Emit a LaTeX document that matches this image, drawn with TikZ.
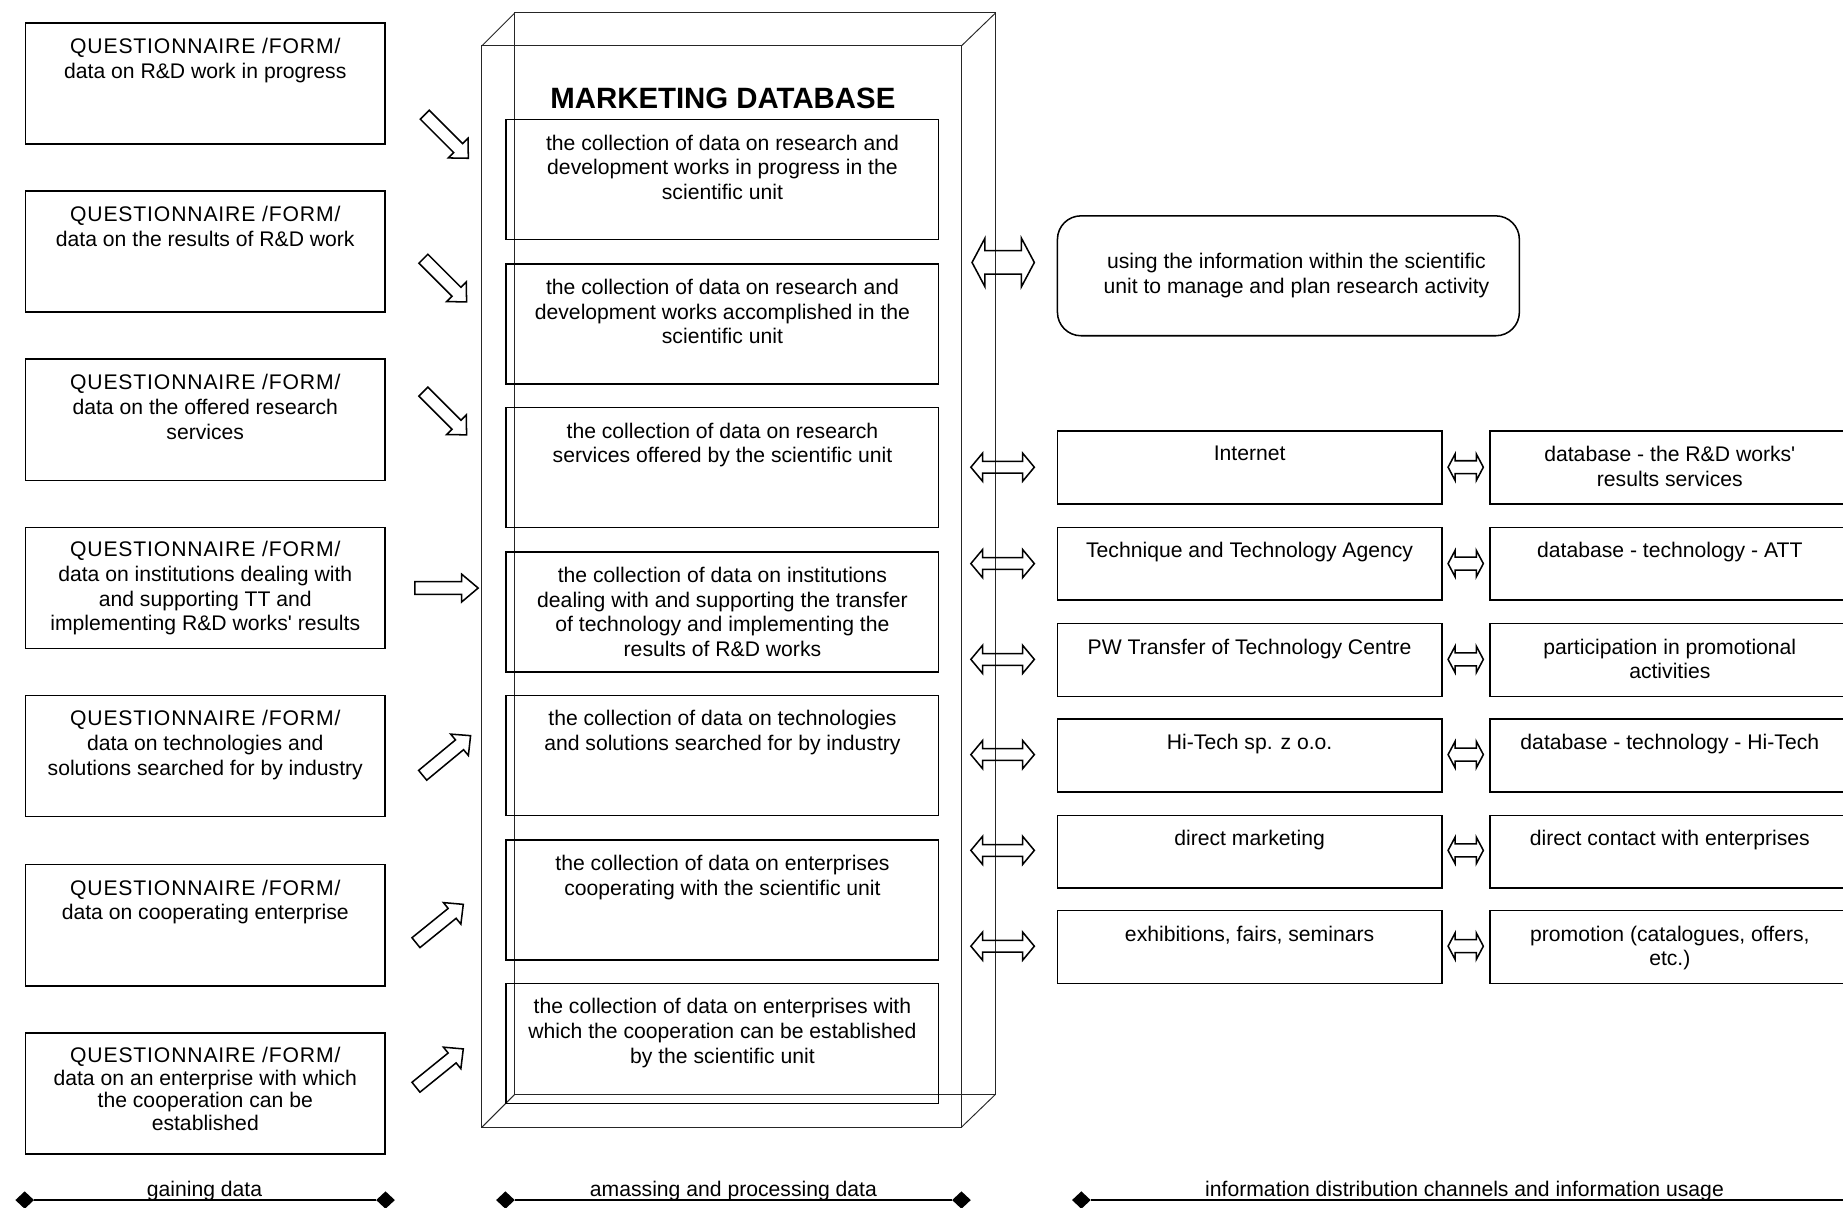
\documentclass[tikz,border=0pt]{standalone}
\usepackage{fontspec}
\setmainfont{Liberation Sans}[Ligatures=TeXOff]
\usetikzlibrary{calc,shapes.geometric}
\tikzset{
  frame/.style={draw=black!85, line width=0.8pt},
  boxbase/.style={draw, line width=1.3pt, anchor=north west, inner sep=0pt},
  lbox/.style={boxbase, minimum width=306pt, minimum height=103pt},
  mbox/.style={boxbase, minimum width=368pt, minimum height=102pt},
  rbox/.style={boxbase, minimum width=327pt, minimum height=62pt},
  farbox/.style={boxbase, minimum width=306pt, minimum height=62pt},
  txt/.style={anchor=north, align=center, inner sep=0pt, font=\fontsize{18}{21}\selectfont},
  lab/.style={anchor=base, inner sep=0pt, font=\fontsize{18}{21}\selectfont},
  titletxt/.style={anchor=base, inner sep=0pt, font=\fontsize{25}{28}\selectfont\bfseries},
  blk/.style={draw, line width=1.3pt, line join=miter},
  diam/.style={diamond, fill=black, draw=none, inner sep=0pt, minimum width=16pt, minimum height=15pt},
  axis/.style={draw, line width=1.3pt}
}
\newcommand\sarrow[4]{%
  \draw[blk, shift={#1}, rotate=#2] (0,-5.4) -- (#3-#4,-5.4) -- (#3-#4,-11.8) -- (#3,0) -- (#3-#4,11.8) -- (#3-#4,5.4) -- (0,5.4) -- cycle;}
\newcommand\dblarrow[5]{% center, half length, half head, half shaft, head length
  \draw[blk, shift={#1}] (-#2,0) -- (-#2+#5,-#3) -- (-#2+#5,-#4) -- (#2-#5,-#4) -- (#2-#5,-#3) -- (#2,0) -- (#2-#5,#3) -- (#2-#5,#4) -- (-#2+#5,#4) -- (-#2+#5,#3) -- cycle;}
\newcommand\qf{\addfontfeatures{LetterSpace=4}QUESTIONNAIRE /FORM/}
\begin{document}
\begin{tikzpicture}[x=1pt,y=-1pt]
\useasboundingbox (0,0) rectangle (1568,1027);
\clip (0,0) rectangle (1568,1027);

% 3D database box (wireframe)
\draw[frame] (410,39) rectangle (818,959);
\draw[frame] (438,11) rectangle (847,931);
\draw[frame] (410,39) -- (438,11);
\draw[frame] (818,39) -- (847,11);
\draw[frame] (818,959) -- (847,931);
\draw[frame] (410,959) -- (438,931);

\node[titletxt] (title) at (615,92) {MARKETING DATABASE};

% left boxes
\node[lbox] (L1) at (21,19) {};
\node[lbox] (L2) at (21,162) {};
\node[lbox] (L3) at (21,305) {};
\node[lbox] (L4) at (21,448) {};
\node[lbox] (L5) at (21,591) {};
\node[lbox] (L6) at (21,735) {};
\node[lbox] (L7) at (21,878) {};
\node[txt] (Lt1) at ($(L1.north)+(0,13.4)$) {\qf\\data on R\&D work in progress};
\node[txt] (Lt2) at ($(L2.north)+(0,13.4)$) {\qf\\data on the results of R\&D work};
\node[txt] (Lt3) at ($(L3.north)+(0,13.4)$) {\qf\\data on the offered research\\services};
\node[txt] (Lt4) at ($(L4.north)+(0,12.4)$) {\qf\\data on institutions dealing with\\and supporting TT and\\implementing R\&D works' results};
\node[txt] (Lt5) at ($(L5.north)+(0,13.4)$) {\qf\\data on technologies and\\solutions searched for by industry};
\node[txt] (Lt6) at ($(L6.north)+(0,13.4)$) {\qf\\data on cooperating enterprise};
\node[txt, font=\fontsize{18}{19.5}\selectfont] (Lt7) at ($(L7.north)+(0,12.4)$) {\qf\\data on an enterprise with which\\the cooperation can be\\established};

% middle boxes
\node[mbox] (M1) at (430,101) {};
\node[mbox] (M2) at (430,224) {};
\node[mbox] (M3) at (430,346) {};
\node[mbox] (M4) at (430,469) {};
\node[mbox] (M5) at (430,591) {};
\node[mbox] (M6) at (430,714) {};
\node[mbox] (M7) at (430,836) {};
\node[txt] (Mt1) at ($(M1.north)+(0,13.4)$) {the collection of data on research and\\development works in progress in the\\scientific unit};
\node[txt] (Mt2) at ($(M2.north)+(0,13.4)$) {the collection of data on research and\\development works accomplished in the\\scientific unit};
\node[txt] (Mt3) at ($(M3.north)+(0,13.4)$) {the collection of data on research\\services offered by the scientific unit};
\node[txt] (Mt4) at ($(M4.north)+(0,13.4)$) {the collection of data on institutions\\dealing with and supporting the transfer\\of technology and implementing the\\results of R\&D works};
\node[txt] (Mt5) at ($(M5.north)+(0,13.4)$) {the collection of data on technologies\\and solutions searched for by industry};
\node[txt] (Mt6) at ($(M6.north)+(0,13.4)$) {the collection of data on enterprises\\cooperating with the scientific unit};
\node[txt] (Mt7) at ($(M7.north)+(0,13.4)$) {the collection of data on enterprises with\\which the cooperation can be established\\by the scientific unit};

% left block arrows
\sarrow{(361.4,97.6)}{-45}{52.4}{12.2}
\sarrow{(360.2,220.1)}{-45}{52}{12.2}
\sarrow{(360.2,333.2)}{-45}{52}{12.2}
\sarrow{(353,500.3)}{0}{53.8}{14}
\sarrow{(359.6,659.6)}{39.6}{52.9}{12.2}
\sarrow{(353.9,802)}{39}{51.8}{12.2}
\sarrow{(353.9,925)}{39}{51.8}{12.2}

% right side
\node[boxbase, rounded corners=20pt, minimum width=393pt, minimum height=102pt] (U) at (899,183) {};
\node[txt] (Ut) at (1103,215.4) {using the information within the scientific\\unit to manage and plan research activity};

\node[rbox] (R1) at (899,366) {};
\node[rbox] (R2) at (899,448) {};
\node[rbox] (R3) at (899,530) {};
\node[rbox] (R4) at (899,611) {};
\node[rbox] (R5) at (899,693) {};
\node[rbox] (R6) at (899,774) {};
\node[txt] (Rt1) at ($(R1.north)+(0,13.4)$) {Internet};
\node[txt] (Rt2) at ($(R2.north)+(0,13.4)$) {Technique and Technology Agency};
\node[txt] (Rt3) at ($(R3.north)+(0,13.4)$) {PW Transfer of Technology Centre};
\node[txt] (Rt4) at ($(R4.north)+(0,13.4)$) {Hi-Tech sp. z o.o.};
\node[txt] (Rt5) at ($(R5.north)+(0,13.4)$) {direct marketing};
\node[txt] (Rt6) at ($(R6.north)+(0,13.4)$) {exhibitions, fairs, seminars};

\node[farbox] (F1) at (1267,366) {};
\node[farbox] (F2) at (1267,448) {};
\node[farbox] (F3) at (1267,530) {};
\node[farbox] (F4) at (1267,611) {};
\node[farbox] (F5) at (1267,693) {};
\node[farbox] (F6) at (1267,774) {};
\node[txt] (Ft1) at ($(F1.north)+(0,13.4)$) {database - the R\&D works'\\results services};
\node[txt] (Ft2) at ($(F2.north)+(0,13.4)$) {database - technology - ATT};
\node[txt] (Ft3) at ($(F3.north)+(0,13.4)$) {participation in promotional\\activities};
\node[txt] (Ft4) at ($(F4.north)+(0,13.4)$) {database - technology - Hi-Tech};
\node[txt] (Ft5) at ($(F5.north)+(0,13.4)$) {direct contact with enterprises};
\node[txt] (Ft6) at ($(F6.north)+(0,13.4)$) {promotion (catalogues, offers,\\etc.)};

% double arrows
\dblarrow{(853.5,223.3)}{26.5}{20.7}{10}{11}
\foreach \yy in {397.5,479.5,561,642,723.5,805}{
  \dblarrow{(853,\yy)}{27}{12}{5}{10}
  \dblarrow{(1247,\yy)}{15}{11.3}{5.5}{6}
}

% bottom axes
\node[diam] (a1) at (21,1021) {};
\node[diam] (a2) at (328,1021) {};
\node[diam] (b1) at (430,1021) {};
\node[diam] (b2) at (818,1021) {};
\node[diam] (c1) at (920,1021) {};
\coordinate (c2) at (1580,1021);
\draw[axis] (a1) -- (a2);
\draw[axis] (b1) -- (b2);
\draw[axis] (c1) -- (c2);
\node[lab] (la) at (174,1018) {gaining data};
\node[lab] (lb) at (624,1018) {amassing and processing data};
\node[lab] (lc) at (1246,1018) {information distribution channels and information usage};
\end{tikzpicture}
\end{document}
